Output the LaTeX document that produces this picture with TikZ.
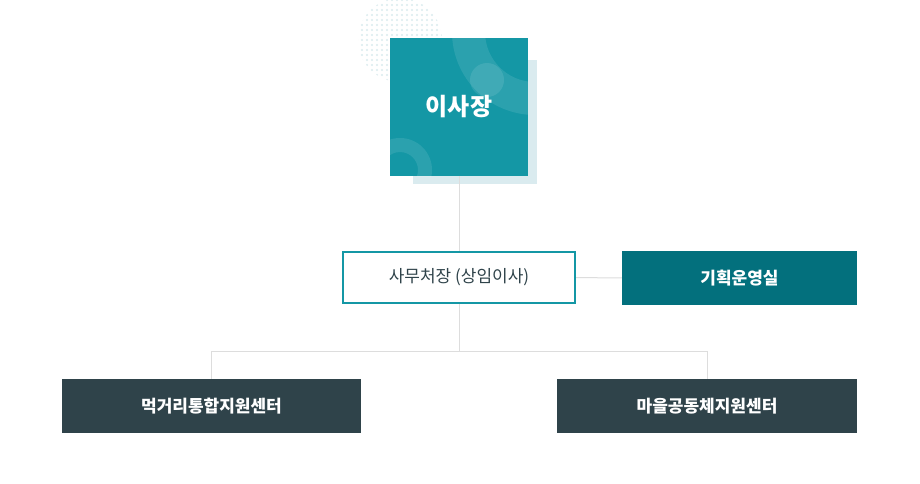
\documentclass[tikz,border=0pt]{standalone}
\usepackage{fontspec}
\setmainfont{Noto Sans CJK KR}
\definecolor{teal1}{HTML}{1497A5}
\definecolor{teal2}{HTML}{03707D}
\definecolor{slate}{HTML}{2F434A}
\definecolor{shadowc}{HTML}{DAEBEF}
\definecolor{dotc}{HTML}{D9EBEE}
\definecolor{linec}{HTML}{DDDDDD}
\begin{document}
\begin{tikzpicture}[x=1pt, y=-1pt,
    every node/.style={rectangle,inner sep=0pt,minimum height=54pt,minimum width=300pt},
    line/.style={draw=linec, line width=1pt}]
            \useasboundingbox[fill=white] (0,0) rectangle (920,484);
            % back of the top box
            \begin{scope}
                \clip (400,40) circle (42);
                \foreach \i in {0,...,17}
                    \foreach \j in {0,...,17}
                        \fill[dotc] (357+5*\i,0+5*\j) circle (1.1);
            \end{scope}
            \fill[shadowc] (413,60) rectangle (537,184);
            \node[fill=teal1, minimum width=138pt, minimum height=138pt] (n0) at (459,107) {};
            \begin{scope}
                \clip (390,38) rectangle (528,176);
                \fill[white, opacity=0.1, even odd rule] (535,32) circle (83) (535,32) circle (50);
                \fill[white, opacity=0.1] (487,80) circle (17);
                \fill[white, opacity=0.1, even odd rule] (400,170) circle (32) (400,170) circle (18);
            \end{scope}
            \node[minimum size=0pt, text=white, font=\bfseries\fontsize{24}{28}\selectfont] at (459,107) {이사장};
            \node[draw=teal1, line width=2pt, fill=white, minimum width=232pt, minimum height=51pt,
                  text=slate, font=\fontsize{17}{20}\selectfont] (n1) at (459,277.5) {사무처장 (상임이사)};
            \node[fill=teal2, minimum width=235pt, text=white, font=\bfseries\fontsize{17}{20}\selectfont] (n2) at (739.5,278) {기획운영실};
            \node[fill=slate, minimum width=299pt, text=white, font=\bfseries\fontsize{17}{20}\selectfont] (n3) at (211.5,406) {먹거리통합지원센터};
            \node[fill=slate, minimum width=300pt, text=white, font=\bfseries\fontsize{17}{20}\selectfont] (n4) at (707,406) {마을공동체지원센터};
            \coordinate (j0) at (459,351);
            \draw[line] (n0) -- (n1);
            \draw[line] (n1) -- (n2);
            \draw[line] (n1) -- (j0);
            \draw[line] (j0) -| (n3);
            \draw[line] (j0) -| (n4);
        \end{tikzpicture}
\end{document}
